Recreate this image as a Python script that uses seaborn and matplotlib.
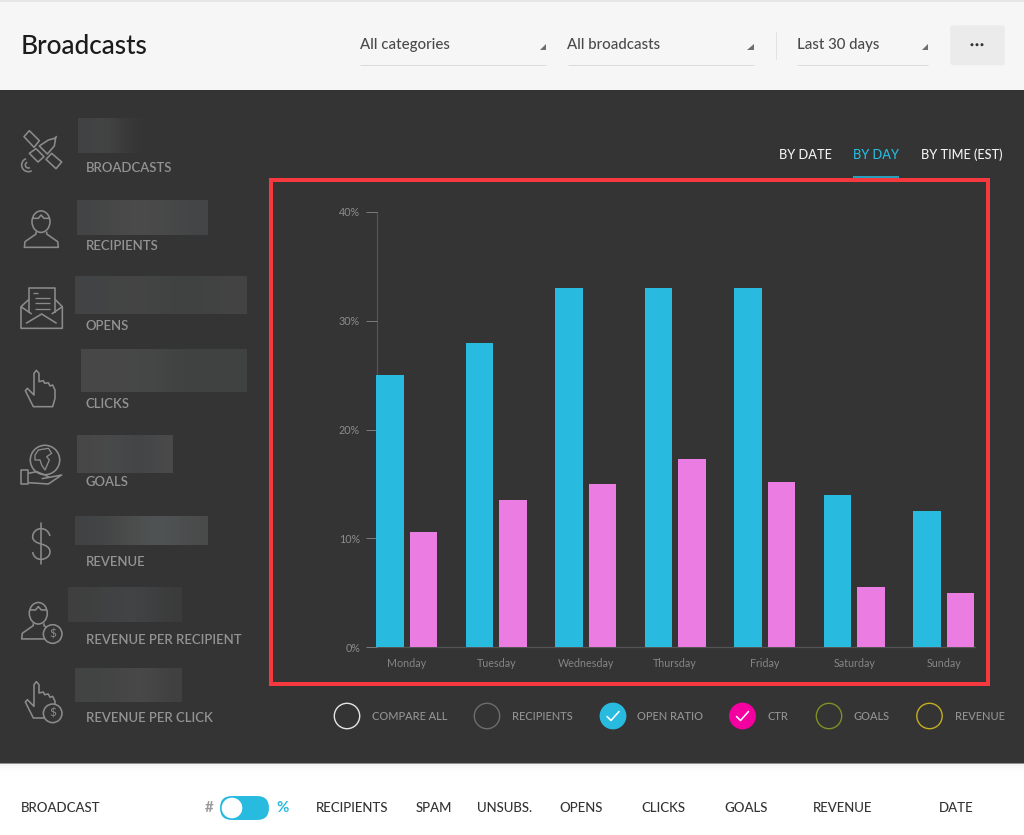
import numpy as np
import pandas as pd
import matplotlib
matplotlib.use("Agg")
import matplotlib.pyplot as plt
from matplotlib.colors import to_rgb
from matplotlib.patches import Circle, Ellipse, FancyBboxPatch, PathPatch, Polygon, Rectangle
from matplotlib.path import Path
from matplotlib.ticker import FuncFormatter
import seaborn as sns

# Chart data
days = ["Monday", "Tuesday", "Wednesday", "Thursday", "Friday", "Saturday", "Sunday"]
open_ratio = [25, 28, 33, 33, 33, 14, 12.5]
ctr = [10.6, 13.5, 15, 17.3, 15.2, 5.5, 5]

# Dashboard text
stat_labels = ["BROADCASTS", "RECIPIENTS", "OPENS", "CLICKS", "GOALS", "REVENUE",
               "REVENUE PER RECIPIENT", "REVENUE PER CLICK"]
stat_label_y = [167, 246, 325, 403, 482, 561, 639.5, 718]
legend_labels = ["COMPARE ALL", "RECIPIENTS", "OPEN RATIO", "CTR", "GOALS", "REVENUE"]
legend_circle_x = [347, 487, 613, 742.5, 829, 929.5]
legend_label_x = [372, 512, 637, 767, 854, 955]
legend_rings = ["#e4e4e4", "#6c6c6c", "#29bbdf", "#f400a1", "#7d8f26", "#c2ae1e"]
legend_checked = [False, False, True, True, False, False]
table_heads = ["BROADCAST", "RECIPIENTS", "SPAM", "UNSUBS.", "OPENS", "CLICKS", "GOALS", "REVENUE", "DATE"]
table_head_x = [21, 316, 416, 477, 559, 641, 724, 813, 939]

BLUE, PINK = "#28bbdf", "#eb7de2"
DARK = "#343434"
ICON = "#8b8b8b"
MUTED = "#939393"

sns.set_theme(style="white")
plt.rcParams["font.family"] = ["Lato", "DejaVu Sans"]

fig = plt.figure(figsize=(10.24, 8.35), dpi=100, facecolor="white")

# Page layer, addressed in pixels from the top-left corner
ui = fig.add_axes([0, 0, 1, 1], zorder=0)
ui.set_axis_off()


def pt(px):
    return px / (100 / 72)


def rect(x0, y0, x1, y1, color, z=1):
    ui.add_patch(Rectangle((x0, y0), x1 - x0, y1 - y0, fc=color, ec="none", zorder=z))


def hline(x0, x1, y, color, lw=1.0, z=2):
    ui.plot([x0, x1], [y, y], color=color, lw=pt(lw), zorder=z, solid_capstyle="butt")


def label(x, y, s, size, color, ha="left", weight="medium", z=5):
    ui.text(x, y + 1, s, fontsize=pt(size), color=color, ha=ha, va="center", fontweight=weight, zorder=z)


rect(0, 0, 1024, 2, "#e6e6e6")
rect(0, 2, 1024, 90, "#f6f6f6")
rect(0, 90, 1024, 763, DARK)
rect(0, 763, 1024, 764, "#8c8c8c")
for i, shade in enumerate(["#f4f4f4", "#f8f8f8", "#fbfbfb", "#fdfdfd"]):
    rect(0, 764 + 2 * i, 1024, 766 + 2 * i, shade)

# Header bar
label(21, 45, "Broadcasts", 26.2, "#1c1c1c")
for x, x0, x1, s in [(360, 360, 546, "All categories"), (567, 568, 753.5, "All broadcasts"),
                     (797, 797, 928, "Last 30 days")]:
    label(x, 44, s, 15, "#4a4a4a")
    hline(x0, x1, 64.5, "#dcdcdc")
    ui.add_patch(Polygon([(x1, 43.5), (x1, 49.5), (x1 - 6.5, 49.5)], fc="#6e6e6e", ec="none", zorder=3))
ui.plot([775.5, 775.5], [32, 59], color="#e2e2e2", lw=pt(1), zorder=2)
ui.add_patch(FancyBboxPatch((951, 26), 53, 38.5, boxstyle="round,pad=0,rounding_size=2",
                            fc="#ebebeb", ec="#ebebeb", lw=1, zorder=2))
for dx in (-5, 0, 5):
    ui.add_patch(Circle((977 + dx, 44.7), 1.5, fc="#333333", ec="none", zorder=3))

# View tabs
label(779, 154, "BY DATE", 12.7, "#f2f2f2")
label(853, 154, "BY DAY", 12.7, BLUE)
label(921, 154, "BY TIME (EST)", 12.7, "#f2f2f2")
hline(853, 899, 177, "#2a9fbb", lw=2)

# Masked statistic values
masks = [
    (78, 153, 118, 153, ["#414243", "#444545", "#3a3a3a", DARK]),
    (77, 208, 200, 235, ["#434445", "#4b4b4b", "#4a4a4a", "#434546"]),
    (75, 247, 276, 314, ["#424344", "#464646", "#3e4040", "#444444"]),
    (81, 247, 349, 392, ["#474747", "#484848", "#3f4242", "#414141"]),
    (77, 173, 435, 473, ["#474747", "#4b4b4b", "#404345", "#4a4a4a"]),
    (75, 208, 516, 545, ["#404244", "#4a4a48", "#525759", "#4a4a4a"]),
    (68, 182, 587, 622, ["#3f3f3f", "#414243", "#434546", "#3b3b3b"]),
    (75, 182, 668, 702, ["#424445", "#444444", "#4b4b4b", "#404040"]),
]
for x0, x1, y0, y1, stops in masks:
    colours = np.array([to_rgb(c) for c in stops])[None, :, :]
    ui.imshow(colours, extent=(x0, x1, y1, y0), aspect="auto", interpolation="bicubic", zorder=1)

for s, y in zip(stat_labels, stat_label_y):
    label(86, y - 0.5, s, 13.1, MUTED, weight="semibold")


# Sidebar icons, sketched on a 3x grid around an origin
def grid(points, ox, oy):
    return [(ox + x / 3, oy + y / 3) for x, y in points]


def stroke(points, ox, oy, closed=False, lw=1.6, fill="none"):
    ui.add_patch(Polygon(grid(points, ox, oy), closed=closed, fc=fill, ec=ICON, lw=pt(lw),
                         joinstyle="round", zorder=4))


def dollar_badge(cx, cy):
    ui.add_patch(Circle((cx, cy), 9.3, fc=DARK, ec=ICON, lw=pt(1.6), zorder=6))
    ui.text(cx, cy, "$", fontsize=pt(12), color=ICON, ha="center", va="center", zorder=7)


def person(ox, oy):
    ui.add_patch(Ellipse((ox + 93 / 3, oy + 335 / 3), 18, 21.5, fc="none", ec=ICON, lw=pt(1.6), zorder=4))
    stroke([(68, 325), (85, 325), (93, 315), (102, 325), (118, 325)], ox, oy)
    stroke([(78, 365), (78, 372), (45, 395), (43, 412), (145, 412), (143, 395), (110, 372), (110, 365)], ox, oy)


def pointer(ox, oy):
    stroke([(128, 200), (70, 200), (46, 152), (52, 145), (72, 165), (72, 100), (79, 91), (87, 100),
            (87, 125), (100, 122), (104, 130), (115, 128), (120, 138), (128, 135), (135, 150),
            (135, 175)], ox, oy, closed=True)


# Broadcasts: satellite
stroke([(58, 62), (42, 80), (72, 112), (88, 92)], 10, 110, closed=True)
stroke([(125, 130), (108, 148), (138, 176), (155, 156)], 10, 110, closed=True)
stroke([(88, 108), (115, 90), (137, 84), (133, 108), (112, 132)], 10, 110, closed=True)
stroke([(58, 130), (78, 116), (102, 140), (84, 156)], 10, 110, closed=True)
stroke([(133, 88), (140, 78)], 10, 110)
for radius, start, end in [(20, 60, 250), (9, 60, 250)]:
    theta = np.radians(np.linspace(start, end, 30))
    arc = list(zip(55 + radius * np.cos(theta), 165 + radius * np.sin(theta)))
    stroke(arc, 10, 110)

# Recipients: person
person(10, 110)

# Opens: open envelope with a letter
stroke([(57, 568), (33, 590), (33, 655), (157, 655), (157, 590), (135, 568)], 10, 110)
stroke([(57, 610), (57, 535), (135, 535), (135, 610)], 10, 110)
stroke([(33, 590), (65, 612)], 10, 110)
stroke([(157, 590), (125, 612)], 10, 110)
stroke([(48, 640), (95, 612), (140, 640)], 10, 110)
for seg in ([(70, 550), (85, 550)], [(75, 565), (120, 565)], [(75, 580), (120, 580)], [(75, 597), (120, 597)]):
    stroke(seg, 10, 110, lw=1.3)

# Clicks: pointing hand
pointer(10, 340)

# Goals: globe held in a hand
ui.add_patch(Circle((10 + 105 / 3, 340 + 360 / 3), 14.7, fc="none", ec=ICON, lw=pt(1.6), zorder=3))
stroke([(75, 345), (85, 330), (115, 325), (125, 340), (110, 350), (118, 360), (105, 390),
        (95, 375), (90, 360), (75, 360)], 10, 340, closed=True, lw=1.3)
stroke([(33, 390), (55, 390), (55, 432), (33, 432)], 10, 340, closed=True)
stroke([(55, 400), (80, 395), (105, 405), (118, 412), (95, 416)], 10, 340)
stroke([(118, 412), (155, 405), (115, 432), (55, 428)], 10, 340)

# Revenue: dollar sign
ui.plot([10 + 93 / 3] * 2, [340 + 550 / 3, 340 + 672 / 3], color=ICON, lw=pt(1.6), zorder=4)
s_curve = [(120, 588), (115, 572), (105, 566), (93, 566), (78, 566), (68, 578), (68, 590),
           (68, 603), (80, 608), (93, 612), (108, 616), (120, 622), (120, 636),
           (120, 648), (108, 658), (93, 658), (80, 658), (70, 650), (68, 636)]
ui.add_patch(PathPatch(Path(grid(s_curve, 10, 340), [Path.MOVETO] + [Path.CURVE4] * 18),
                       fc="none", ec=ICON, lw=pt(1.6), zorder=4))

# Revenue per recipient and per click
person(7.3, 501.6)
dollar_badge(10 + 128 / 3, 560 + 222 / 3)
pointer(10, 560 + 274 / 3)
dollar_badge(10 + 128 / 3, 560 + 460 / 3)

# Series toggles under the chart
for s, cx, lx, ring, checked in zip(legend_labels, legend_circle_x, legend_label_x, legend_rings, legend_checked):
    ui.add_patch(Circle((cx, 716), 12.7, fc=ring if checked else "none", ec=ring, lw=pt(1.4), zorder=3))
    if checked:
        ui.plot([cx - 6, cx - 2, cx + 6], [716.5, 720.5, 711.5], color="white", lw=pt(1.6), zorder=4)
    label(lx, 715.3, s, 11, MUTED)

# Table header
for s, x in zip(table_heads, table_head_x):
    label(x, 807.5, s, 13.2, "#333333")
label(205, 807, "#", 15, "#9a9a9a", weight="bold")
label(276, 807, "%", 15, BLUE, weight="bold")
ui.add_patch(FancyBboxPatch((220, 796), 49, 24, boxstyle="round,pad=0,rounding_size=12",
                            fc=BLUE, ec="none", zorder=3))
ui.add_patch(Circle((232, 808), 10.3, fc="white", ec="none", zorder=4))

# Highlight frame round the chart
ui.add_patch(Rectangle((271, 179.5), 717, 504.5, fc="none", ec="#f5393f", lw=pt(4), zorder=3, joinstyle="miter"))

ui.set_xlim(0, 1024)
ui.set_ylim(835, 0)

# Bar chart
W, H = 1024, 835
left, right, top, bottom = 377, 975, 212, 647
ax = fig.add_axes([left / W, 1 - bottom / H, (right - left) / W, (bottom - top) / H], zorder=2)
ax.patch.set_alpha(0)

df = pd.DataFrame({
    "day": days * 2,
    "value": open_ratio + ctr,
    "metric": ["Open ratio"] * len(days) + ["CTR"] * len(days),
})
sns.barplot(data=df, x="day", y="value", hue="metric", order=days,
            palette={"Open ratio": BLUE, "CTR": PINK}, saturation=1,
            width=0.749, gap=0.19, legend=False, linewidth=0, clip_on=False, ax=ax)

ax.set_xlim(-0.332, 6.349)
ax.set_ylim(0, 40)
ax.set_yticks([0, 10, 20, 30, 40])
ax.yaxis.set_major_formatter(FuncFormatter(lambda v, _: f"{v:.0f}%"))
ax.set_xlabel("")
ax.set_ylabel("")
ax.tick_params(axis="y", length=pt(11), width=pt(1), color="#7a7a7a", pad=pt(6),
               labelsize=pt(10.8), labelcolor="#8c8c8c", left=True)
ax.tick_params(axis="x", length=0, pad=pt(11), labelsize=pt(10.8), labelcolor="#858585")
for side in ("top", "right"):
    ax.spines[side].set_visible(False)
for side in ("left", "bottom"):
    ax.spines[side].set_color("#545454")
    ax.spines[side].set_linewidth(pt(1.2))
    ax.spines[side].set_zorder(0.5)

fig.savefig("out.png", dpi=100, facecolor="white")
